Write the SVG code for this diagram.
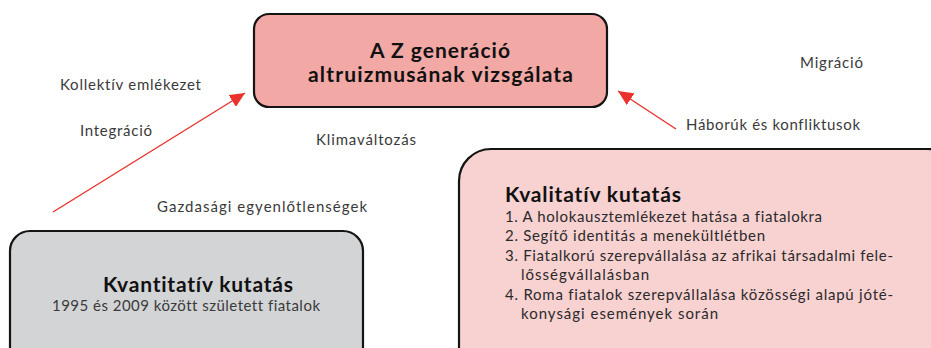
<svg xmlns="http://www.w3.org/2000/svg" width="931" height="348" viewBox="0 0 931 348">
<style>
text{font-variant-ligatures:none}
.box{stroke:#141414;stroke-width:2.2}
.lbl{font-family:Lato,"Open Sans","Liberation Sans",sans-serif;font-size:15px;fill:#3a3a3a}
.title{font-family:Lato,"Open Sans","Liberation Sans",sans-serif;font-weight:bold;fill:#111}
.item{font-family:Lato,"Open Sans","Liberation Sans",sans-serif;font-size:15px;fill:#2a2a2a}
.conn{stroke:#e8322b;stroke-width:1.4;fill:none}
</style>
<defs>
<marker id="ah" markerUnits="userSpaceOnUse" markerWidth="16" markerHeight="14" refX="15" refY="7" orient="auto">
<path d="M0,0 L15,7 L0,14 Z" fill="#e8322b"/>
</marker>
</defs>
<rect width="931" height="348" fill="#fff"/>
<g id="connectors">
<line class="conn" x1="53" y1="212" x2="245" y2="93" marker-end="url(#ah)"/>
<line class="conn" x1="676" y1="129" x2="618" y2="91" marker-end="url(#ah)"/>
</g>
<g id="main">
<rect class="box" x="254" y="14" width="353" height="93" rx="15" fill="#f2a8a4"/>
<text class="title" font-size="21" x="440" y="58" text-anchor="middle" textLength="140">A Z generáció</text>
<text class="title" font-size="21" x="440.5" y="82" text-anchor="middle" textLength="265">altruizmusának vizsgálata</text>
</g>
<g id="quant">
<rect class="box" x="10" y="231" width="353" height="140" rx="20" fill="#d3d4d6"/>
<text class="title" font-size="21" x="198" y="292" text-anchor="middle" textLength="190">Kvantitatív kutatás</text>
<text class="lbl" x="186" y="311" text-anchor="middle" textLength="268">1995 és 2009 között született fiatalok</text>
</g>
<g id="qual">
<rect class="box" x="459" y="149" width="500" height="230" rx="32" fill="#f8d1d1"/>
<text class="title" font-size="21" x="505" y="202" textLength="176">Kvalitatív kutatás</text>
<text class="item" x="505" y="222" textLength="317">1. A holokausztemlékezet hatása a fiatalokra</text>
<text class="item" x="505" y="241" textLength="260">2. Segítő identitás a menekültlétben</text>
<text class="item" x="505" y="260.5" textLength="388">3. Fiatalkorú szerepvállalása az afrikai társadalmi fele-</text>
<text class="item" x="521" y="280" textLength="128">lősségvállalásban</text>
<text class="item" x="505" y="299.5" textLength="388">4. Roma fiatalok szerepvállalása közösségi alapú jóté-</text>
<text class="item" x="521" y="318.5" textLength="197">konysági események során</text>
</g>
<g id="labels">
<text class="lbl" x="60" y="90" textLength="141">Kollektív emlékezet</text>
<text class="lbl" x="80" y="136" textLength="72">Integráció</text>
<text class="lbl" x="316" y="145" textLength="100">Klimaváltozás</text>
<text class="lbl" x="157" y="212" textLength="210">Gazdasági egyenlőtlenségek</text>
<text class="lbl" x="800" y="68" textLength="63">Migráció</text>
<text class="lbl" x="686" y="130" textLength="174">Háborúk és konfliktusok</text>
</g>
</svg>
